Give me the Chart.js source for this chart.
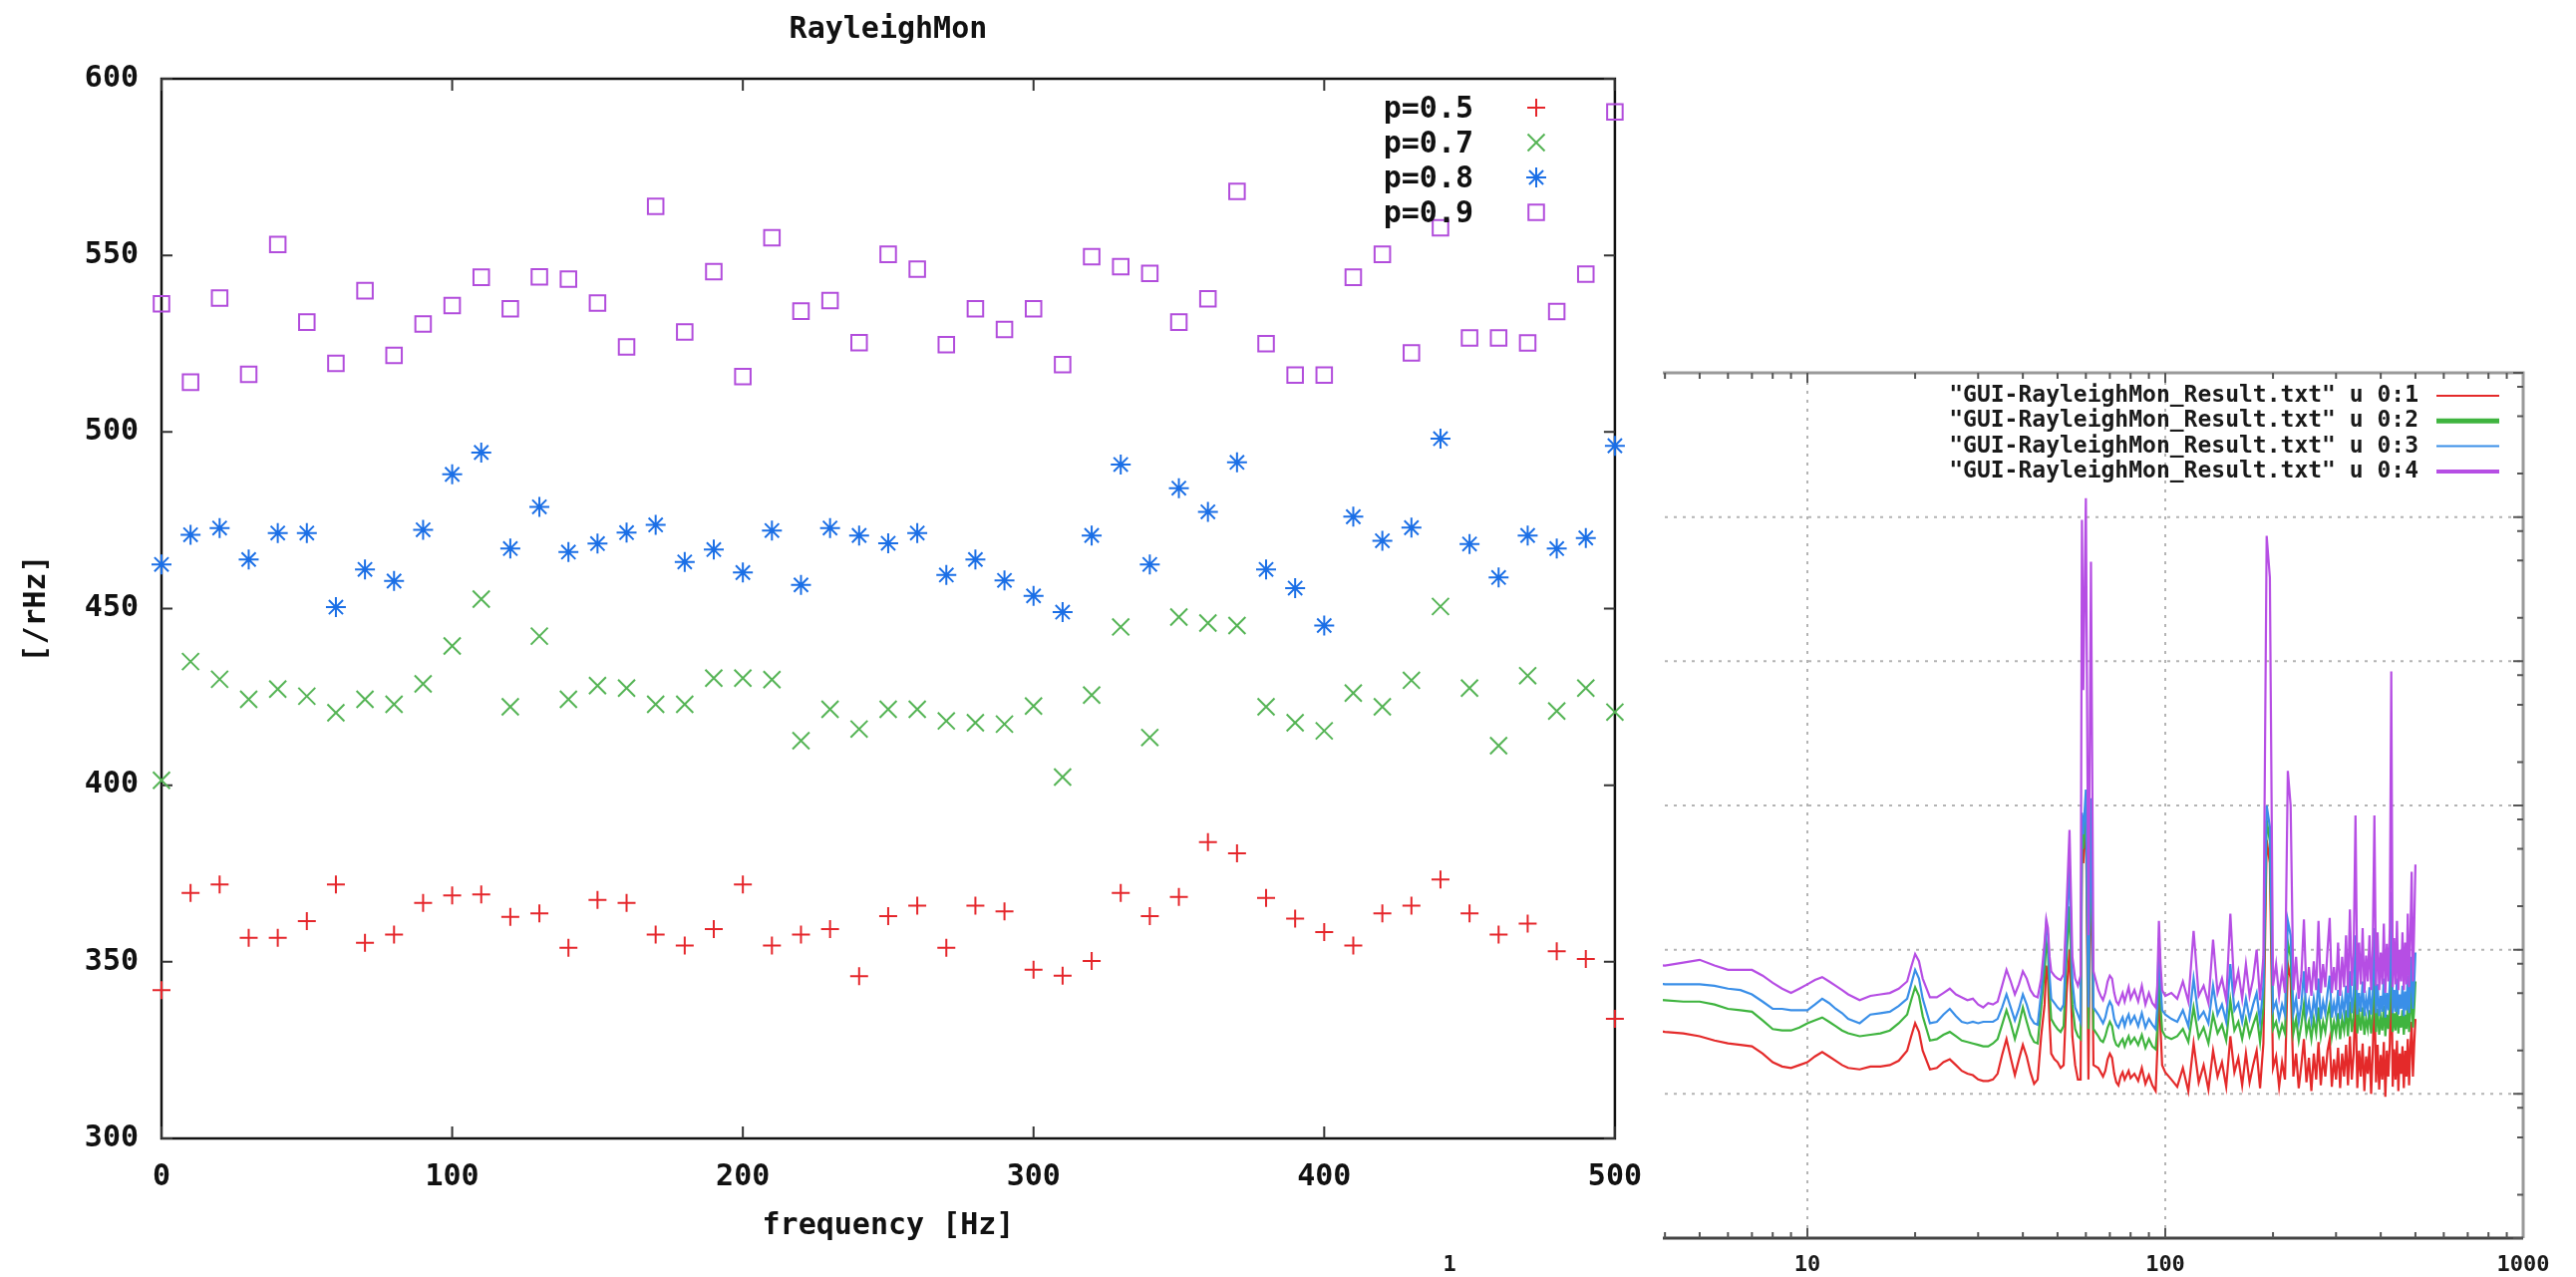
<!DOCTYPE html>
<html>
<head>
<meta charset="utf-8">
<script src="https://cdn.jsdelivr.net/npm/chart.js@4.4.1/dist/chart.umd.min.js"></script>
<style>
  html, body { margin: 0; padding: 0; background: #ffffff; width: 2584px; height: 1281px; overflow: hidden; }
  #wrapSpec { position: absolute; left: 0; top: 0; width: 2584px; height: 1281px; z-index: 1; }
  #wrapMain { position: absolute; left: 0; top: 0; width: 1668px; height: 1248px; z-index: 2; background: #ffffff; }
</style>
</head>
<body>
<div id="wrapSpec"><canvas id="spec"></canvas></div>
<div id="wrapMain"><canvas id="main"></canvas></div>
<script>
// ---------------- main chart data ----------------
const chartTitle = 'RayleighMon';
const xTitle = 'frequency [Hz]';
const yTitle = '[/rHz]';
const seriesNames = ['p=0.5', 'p=0.7', 'p=0.8', 'p=0.9'];
const freqHz = [0, 10, 20, 30, 40, 50, 60, 70, 80, 90, 100,
  110, 120, 130, 140, 150, 160, 170, 180, 190, 200,
  210, 220, 230, 240, 250, 260, 270, 280, 290, 300,
  310, 320, 330, 340, 350, 360, 370, 380, 390, 400,
  410, 420, 430, 440, 450, 460, 470, 480, 490, 500];
const p05 = [342.0, 369.5, 371.9, 356.8, 356.8, 361.5, 371.9, 355.4, 357.7, 366.7, 368.8,
  369.1, 362.7, 363.7, 354.0, 367.5, 366.7, 357.7, 354.6, 359.3, 371.9,
  354.6, 357.7, 359.3, 345.9, 362.9, 365.9, 354.0, 365.9, 364.3, 347.8,
  346.1, 350.2, 369.5, 362.9, 368.4, 383.9, 380.7, 368.1, 362.2, 358.4,
  354.6, 363.7, 365.9, 373.3, 363.7, 357.7, 360.8, 353.0, 350.8, 333.9];
const p07 = [401.4, 435.0, 430.0, 424.3, 427.2, 425.2, 420.5, 424.3, 422.9, 428.7, 439.4,
  452.7, 422.2, 442.2, 424.3, 428.2, 427.5, 422.9, 422.9, 430.3, 430.3,
  429.9, 412.6, 421.5, 415.9, 421.5, 421.5, 418.2, 417.7, 417.3, 422.4,
  402.3, 425.5, 444.8, 413.5, 447.6, 445.9, 445.2, 422.2, 417.7, 415.4,
  426.1, 422.2, 429.7, 450.6, 427.5, 411.2, 431.0, 421.0, 427.5, 420.7];
const p08 = [462.5, 470.9, 472.8, 463.9, 471.4, 471.4, 450.4, 461.1, 457.8, 472.3, 488.0,
  494.2, 467.0, 478.8, 466.0, 468.4, 471.5, 473.7, 463.2, 466.7, 460.2,
  472.1, 456.7, 472.8, 470.7, 468.5, 471.4, 459.5, 463.9, 458.0, 453.6,
  449.0, 470.7, 490.8, 462.5, 484.1, 477.4, 491.4, 461.1, 455.8, 445.2,
  476.0, 469.2, 472.9, 498.1, 468.3, 458.8, 470.7, 467.0, 470.0, 496.1];
const p09 = [536.3, 514.1, 537.9, 516.3, 553.1, 531.1, 519.4, 540.0, 521.7, 530.6, 535.8,
  543.8, 534.9, 543.9, 543.3, 536.5, 524.1, 563.9, 528.3, 545.4, 515.7,
  555.0, 534.2, 537.2, 525.3, 550.3, 546.1, 524.7, 534.9, 529.0, 534.9,
  519.1, 549.6, 546.8, 544.9, 531.1, 537.7, 568.1, 525.0, 516.1, 516.1,
  543.8, 550.3, 522.4, 557.8, 526.6, 526.6, 525.2, 534.1, 544.7, 590.6];
const yTicksMain = [300, 350, 400, 450, 500, 550, 600];
const xTicksMain = [0, 100, 200, 300, 400, 500];

// ---------------- spectrum (inset) data ----------------
const specLabels = [
  '"GUI-RayleighMon_Result.txt" u 0:1',
  '"GUI-RayleighMon_Result.txt" u 0:2',
  '"GUI-RayleighMon_Result.txt" u 0:3',
  '"GUI-RayleighMon_Result.txt" u 0:4'
];
const specXTicks = [1, 10, 100, 1000];
const specFreq = [
  1, 1.5, 2, 2.5, 3, 3.5, 4, 4.5, 5, 5.5,
  6, 6.5, 7, 7.5, 8, 8.5, 9, 9.5, 10, 10.5,
  11, 11.5, 12, 12.5, 13, 14, 15, 16, 17, 18,
  19, 19.5, 20, 20.5, 21, 22, 23, 24, 25, 26,
  27, 28, 29, 30, 31, 32, 33, 34, 35, 36,
  37, 38, 39, 40, 41, 42, 43, 44, 45, 46,
  46.5, 47, 47.5, 48, 49, 50, 51, 52, 53, 54,
  55, 56, 57, 58, 58.5, 59, 60, 61, 62, 63,
  65, 66, 67, 68, 69, 70, 71, 72, 73, 74,
  75, 76, 77, 78, 79, 80, 82, 84, 86, 88,
  90, 92, 94, 95, 96, 97, 98, 100,
  104, 108, 112, 116, 120, 124, 128, 132, 136, 140,
  144, 148, 152, 156, 160, 164, 168, 172, 176, 180,
  184, 188, 192, 196, 200, 204, 208, 212, 216, 220,
  224, 228, 232, 236, 240, 244, 248, 252, 256, 260,
  264, 268, 272, 276, 280, 284, 288, 292, 296, 300,
  304, 308, 312, 316, 320, 324, 328, 332, 336, 340,
  344, 348, 352, 356, 360, 364, 368, 372, 376, 380,
  384, 388, 392, 396, 400, 404, 408, 412, 416, 420,
  424, 428, 432, 436, 440, 444, 448, 452, 456, 460,
  464, 468, 472, 476, 480, 484, 488, 492, 496, 500];
// log10 of the amplitude, per column (u 0:1 ... u 0:4)
const log10Col1 = [
  1.58, 1.55, 1.52, 1.49, 1.47, 1.45, 1.43, 1.42, 1.40, 1.37,
  1.35, 1.34, 1.33, 1.28, 1.22, 1.19, 1.18, 1.20, 1.22, 1.26,
  1.29, 1.26, 1.23, 1.20, 1.18, 1.17, 1.19, 1.19, 1.20, 1.23,
  1.30, 1.40, 1.49, 1.43, 1.30, 1.17, 1.18, 1.22, 1.24, 1.20,
  1.16, 1.14, 1.13, 1.10, 1.09, 1.09, 1.10, 1.14, 1.27, 1.38,
  1.25, 1.13, 1.24, 1.34, 1.26, 1.15, 1.07, 1.10, 1.40, 1.62,
  1.89, 1.80, 1.50, 1.28, 1.24, 1.22, 1.18, 1.20, 1.70, 2.00,
  1.40, 1.20, 1.10, 1.10, 2.70, 2.60, 2.95, 1.10, 2.85, 1.20,
  1.18, 1.15, 1.12, 1.16, 1.24, 1.28, 1.25, 1.14, 1.08, 1.06,
  1.12, 1.15, 1.10, 1.13, 1.16, 1.11, 1.14, 1.09, 1.18, 1.07,
  1.13, 1.06, 1.02, 1.30, 1.77, 1.45, 1.20, 1.15,
  1.10, 1.05, 1.18, 1.02, 1.35, 1.08, 1.20, 1.03, 1.30, 1.12,
  1.22, 1.05, 1.40, 1.15, 1.25, 1.06, 1.28, 1.08, 1.20, 1.30,
  1.04, 1.35, 2.76, 2.60, 1.18, 1.26, 1.05, 1.22, 1.10, 1.90,
  1.80, 1.12, 1.28, 1.04, 1.20, 1.38, 1.08, 1.25, 1.02, 1.28,
  1.10, 1.36, 1.06, 1.26, 1.12, 1.30, 1.38, 1.05, 1.24, 1.10,
  1.32, 1.04, 1.28, 1.12, 1.34, 1.06, 1.40, 1.10, 1.28, 1.70,
  1.04, 1.30, 1.12, 1.35, 1.02, 1.26, 1.14, 1.33, 1.00, 1.29,
  1.75, 1.08, 1.34, 1.03, 1.27, 1.10, 1.36, 0.98, 1.30, 1.12,
  1.35, 2.00, 1.05, 1.31, 1.10, 1.37, 1.02, 1.28, 1.14, 1.33,
  1.04, 1.30, 1.12, 1.38, 1.06, 1.32, 1.50, 1.12, 1.34, 1.52];
const log10Col2 = [
  1.78, 1.75, 1.73, 1.70, 1.68, 1.66, 1.65, 1.64, 1.64, 1.62,
  1.59, 1.58, 1.57, 1.51, 1.45, 1.44, 1.44, 1.46, 1.49, 1.51,
  1.53, 1.50, 1.47, 1.44, 1.42, 1.40, 1.41, 1.42, 1.44, 1.49,
  1.55, 1.65, 1.74, 1.68, 1.54, 1.37, 1.38, 1.41, 1.43, 1.40,
  1.37, 1.36, 1.35, 1.34, 1.33, 1.33, 1.35, 1.38, 1.48, 1.58,
  1.49, 1.38, 1.48, 1.60, 1.50, 1.41, 1.36, 1.35, 1.60, 1.85,
  2.05, 1.98, 1.70, 1.52, 1.48, 1.45, 1.43, 1.47, 1.95, 2.30,
  1.62, 1.45, 1.40, 1.38, 2.80, 2.70, 3.00, 1.45, 2.95, 1.45,
  1.40, 1.37, 1.36, 1.40, 1.46, 1.50, 1.47, 1.38, 1.34, 1.33,
  1.36, 1.38, 1.33, 1.37, 1.40, 1.35, 1.39, 1.34, 1.41, 1.32,
  1.38, 1.33, 1.31, 1.45, 1.90, 1.60, 1.44, 1.40,
  1.38, 1.40, 1.45, 1.36, 1.60, 1.39, 1.46, 1.35, 1.55, 1.42,
  1.48, 1.37, 1.65, 1.44, 1.50, 1.38, 1.52, 1.40, 1.48, 1.55,
  1.36, 1.60, 2.90, 2.75, 1.45, 1.50, 1.40, 1.48, 1.42, 2.05,
  1.95, 1.42, 1.52, 1.37, 1.48, 1.62, 1.42, 1.50, 1.38, 1.52,
  1.42, 1.60, 1.40, 1.50, 1.43, 1.55, 1.62, 1.40, 1.50, 1.42,
  1.56, 1.38, 1.52, 1.44, 1.58, 1.40, 1.64, 1.43, 1.53, 1.90,
  1.42, 1.55, 1.44, 1.60, 1.41, 1.52, 1.45, 1.58, 1.42, 1.54,
  1.95, 1.43, 1.59, 1.41, 1.53, 1.44, 1.61, 1.40, 1.55, 1.45,
  1.60, 2.20, 1.43, 1.56, 1.44, 1.62, 1.42, 1.54, 1.46, 1.58,
  1.41, 1.55, 1.45, 1.63, 1.43, 1.57, 1.75, 1.46, 1.59, 1.78];
const log10Col3 = [
  1.88, 1.85, 1.83, 1.81, 1.79, 1.78, 1.76, 1.76, 1.76, 1.75,
  1.73, 1.72, 1.69, 1.64, 1.59, 1.59, 1.58, 1.58, 1.58, 1.62,
  1.66, 1.63, 1.59, 1.56, 1.52, 1.49, 1.55, 1.56, 1.57, 1.61,
  1.66, 1.76, 1.86, 1.80, 1.66, 1.49, 1.50, 1.55, 1.59, 1.54,
  1.50, 1.49, 1.50, 1.49, 1.50, 1.50, 1.50, 1.52, 1.60, 1.69,
  1.60, 1.51, 1.59, 1.69, 1.62, 1.53, 1.49, 1.48, 1.70, 1.98,
  2.18, 2.10, 1.82, 1.66, 1.63, 1.60, 1.58, 1.62, 2.10, 2.59,
  1.78, 1.60, 1.55, 1.50, 2.95, 2.80, 3.11, 1.60, 3.05, 1.60,
  1.55, 1.52, 1.49, 1.53, 1.60, 1.64, 1.61, 1.52, 1.48, 1.46,
  1.50, 1.53, 1.47, 1.52, 1.55, 1.49, 1.54, 1.47, 1.56, 1.46,
  1.52, 1.48, 1.45, 1.60, 2.08, 1.75, 1.58, 1.55,
  1.52, 1.50, 1.58, 1.47, 1.80, 1.52, 1.57, 1.49, 1.75, 1.55,
  1.62, 1.50, 1.90, 1.58, 1.63, 1.50, 1.66, 1.52, 1.62, 1.70,
  1.50, 1.75, 3.00, 2.85, 1.58, 1.64, 1.52, 1.62, 1.55, 2.20,
  2.10, 1.56, 1.66, 1.50, 1.62, 1.85, 1.55, 1.64, 1.51, 1.66,
  1.55, 1.80, 1.52, 1.64, 1.56, 1.70, 1.82, 1.53, 1.63, 1.55,
  1.72, 1.52, 1.66, 1.56, 1.75, 1.53, 1.85, 1.56, 1.68, 2.10,
  1.55, 1.70, 1.57, 1.78, 1.54, 1.66, 1.58, 1.74, 1.55, 1.69,
  2.15, 1.56, 1.76, 1.54, 1.68, 1.57, 1.80, 1.53, 1.70, 1.58,
  1.77, 2.40, 1.56, 1.72, 1.57, 1.80, 1.55, 1.69, 1.59, 1.75,
  1.54, 1.71, 1.58, 1.82, 1.56, 1.74, 1.95, 1.59, 1.76, 1.98];
const log10Col4 = [
  2.00, 1.97, 1.95, 1.93, 1.91, 1.90, 1.89, 1.91, 1.93, 1.89,
  1.86, 1.86, 1.86, 1.82, 1.77, 1.73, 1.70, 1.73, 1.76, 1.79,
  1.81, 1.78, 1.75, 1.72, 1.69, 1.65, 1.68, 1.69, 1.70, 1.73,
  1.78, 1.88, 1.97, 1.92, 1.80, 1.67, 1.67, 1.70, 1.73, 1.69,
  1.67, 1.65, 1.66, 1.62, 1.60, 1.63, 1.62, 1.64, 1.75, 1.86,
  1.78, 1.69, 1.76, 1.85, 1.80, 1.72, 1.68, 1.67, 1.80, 2.05,
  2.21, 2.15, 1.95, 1.85, 1.82, 1.80, 1.79, 1.83, 2.30, 2.83,
  1.95, 1.80, 1.75, 1.82, 4.98, 3.80, 5.13, 2.10, 4.69, 1.85,
  1.72, 1.68, 1.65, 1.70, 1.78, 1.82, 1.80, 1.70, 1.64, 1.62,
  1.66, 1.70, 1.64, 1.69, 1.74, 1.66, 1.72, 1.64, 1.75, 1.62,
  1.70, 1.63, 1.60, 1.75, 2.20, 1.90, 1.72, 1.68,
  1.70, 1.66, 1.78, 1.64, 2.13, 1.68, 1.75, 1.63, 2.07, 1.70,
  1.80, 1.65, 2.25, 1.72, 1.85, 1.66, 1.90, 1.68, 1.80, 2.00,
  1.65, 1.95, 4.87, 4.58, 1.75, 1.90, 1.68, 1.85, 1.70, 3.24,
  3.00, 1.72, 1.95, 1.66, 1.82, 2.21, 1.70, 1.88, 1.68, 1.92,
  1.72, 2.20, 1.70, 1.90, 1.74, 2.00, 2.22, 1.70, 1.88, 1.72,
  2.05, 1.68, 1.95, 1.74, 2.10, 1.70, 2.28, 1.75, 1.98, 2.93,
  1.72, 2.05, 1.76, 2.15, 1.70, 1.96, 1.78, 2.10, 1.72, 2.02,
  2.93, 1.75, 2.12, 1.72, 1.98, 1.76, 2.18, 1.70, 2.04, 1.78,
  2.15, 3.93, 1.74, 2.08, 1.76, 2.20, 1.72, 2.00, 1.78, 2.12,
  1.72, 2.05, 1.76, 2.25, 1.74, 2.10, 2.54, 1.78, 2.15, 2.59];

// ---------------- styles ----------------
const MONO = '"DejaVu Sans Mono", "Liberation Mono", monospace';
const mainColors = ['#e5262b', '#55b455', '#1b6fe6', '#b24ddc'];
const mainStyles = ['cross', 'crossRot', 'star', 'rect'];
const mainRadius = [9, 12, 10, 11];
const specColors = ['#e42a2a', '#3fb43f', '#3a8fe8', '#b64ee4'];
const specLegendWidths = [2, 5, 2, 4];

// ---------------- main chart ----------------
const mainSeries = [p05, p07, p08, p09];
const mainFrame = {
  id: 'mainFrame',
  beforeDraw(chart) {
    const c = chart.ctx;
    c.save(); c.fillStyle = '#ffffff'; c.fillRect(0, 0, chart.width, chart.height); c.restore();
  },
  beforeDatasetsDraw(chart) {
    const { ctx, chartArea: a, scales: { x, y } } = chart;
    ctx.save();
    ctx.strokeStyle = '#111111';
    ctx.lineWidth = 2.5;
    ctx.strokeRect(a.left, a.top, a.right - a.left, a.bottom - a.top);
    ctx.strokeStyle = '#333333';
    ctx.lineWidth = 2;
    ctx.beginPath();
    xTicksMain.forEach(v => {
      const px = x.getPixelForValue(v);
      ctx.moveTo(px, a.bottom); ctx.lineTo(px, a.bottom - 12);
      ctx.moveTo(px, a.top); ctx.lineTo(px, a.top + 12);
    });
    yTicksMain.forEach(v => {
      const py = y.getPixelForValue(v);
      ctx.moveTo(a.left, py); ctx.lineTo(a.left + 11, py);
      ctx.moveTo(a.right, py); ctx.lineTo(a.right - 11, py);
    });
    ctx.stroke();
    ctx.restore();
  },
  afterDatasetsDraw(chart) {
    const ctx = chart.ctx;
    ctx.save();
    ctx.font = 'bold 30px ' + MONO;
    ctx.fillStyle = '#111111';
    ctx.textAlign = 'right';
    ctx.textBaseline = 'middle';
    seriesNames.forEach((name, i) => {
      const yy = 110 + 35 * i;
      ctx.fillText(name, 1478, yy);
      ctx.strokeStyle = mainColors[i];
      ctx.fillStyle = 'rgba(0,0,0,0)';
      ctx.lineWidth = 2;
      Chart.helpers.drawPoint(ctx, { pointStyle: mainStyles[i], radius: mainRadius[i], rotation: 0, borderWidth: 2 }, 1541, yy - 2);
      ctx.fillStyle = '#111111';
    });
    ctx.restore();
  }
};

new Chart(document.getElementById('main'), {
  type: 'scatter',
  data: {
    datasets: mainSeries.map((vals, i) => ({
      label: seriesNames[i],
      data: freqHz.map((f, k) => ({ x: f, y: vals[k] })),
      pointStyle: mainStyles[i],
      pointRadius: mainRadius[i],
      pointBorderWidth: 2,
      borderColor: mainColors[i],
      backgroundColor: 'rgba(0,0,0,0)',
      showLine: false,
      clip: false
    }))
  },
  options: {
    responsive: true,
    maintainAspectRatio: false,
    animation: false,
    devicePixelRatio: 1,
    events: [],
    layout: { padding: { left: 0, right: 47, top: 0, bottom: 0 } },
    plugins: {
      legend: { display: false },
      tooltip: { enabled: false },
      title: {
        display: true, text: chartTitle, fullSize: false, color: '#111111',
        font: { family: MONO, size: 30, weight: 'bold', lineHeight: 1.2 },
        padding: { top: 12, bottom: 31 }
      }
    },
    scales: {
      x: {
        type: 'linear', min: 0, max: 500,
        afterBuildTicks: s => { s.ticks = xTicksMain.map(v => ({ value: v })); },
        afterFit: s => { s.height = 106; },
        ticks: { color: '#111111', padding: 21, maxRotation: 0, autoSkip: false,
          font: { family: MONO, size: 30, weight: 'bold' }, callback: v => String(v) },
        grid: { display: false, drawTicks: false },
        border: { display: false },
        title: { display: true, text: xTitle, color: '#111111',
          font: { family: MONO, size: 30, weight: 'bold', lineHeight: 1.2 }, padding: { top: 0, bottom: 0 } }
      },
      y: {
        type: 'linear', min: 300, max: 600,
        afterBuildTicks: s => { s.ticks = yTicksMain.map(v => ({ value: v })); },
        afterFit: s => { s.width = 162; },
        ticks: { color: '#111111', padding: 23, autoSkip: false,
          font: { family: MONO, size: 30, weight: 'bold' }, callback: v => String(v) },
        grid: { display: false, drawTicks: false },
        border: { display: false },
        title: { display: true, text: yTitle, color: '#111111',
          font: { family: MONO, size: 30, weight: 'bold', lineHeight: 1.2 }, padding: { top: 19, bottom: 0 } }
      }
    }
  },
  plugins: [mainFrame]
});

// ---------------- spectrum inset chart ----------------
const specSeries = [log10Col1, log10Col2, log10Col3, log10Col4];
const specFrame = {
  id: 'specFrame',
  beforeDatasetsDraw(chart) {
    const { ctx, chartArea: a, scales: { x, y } } = chart;
    ctx.save();
    ctx.strokeStyle = '#b4b4b4';
    ctx.lineWidth = 2;
    ctx.setLineDash([3, 6]);
    ctx.beginPath();
    [10, 100].forEach(v => { const px = x.getPixelForValue(v); ctx.moveTo(px, a.top); ctx.lineTo(px, a.bottom); });
    [1, 2, 3, 4, 5].forEach(v => { const py = y.getPixelForValue(v); ctx.moveTo(a.left, py); ctx.lineTo(a.right, py); });
    ctx.stroke();
    ctx.restore();
  },
  afterDatasetsDraw(chart) {
    const { ctx, chartArea: a, scales: { x, y } } = chart;
    ctx.save();
    // frame
    ctx.lineWidth = 3;
    ctx.strokeStyle = '#9a9a9a';
    ctx.beginPath();
    ctx.moveTo(a.left, a.top); ctx.lineTo(a.right, a.top); ctx.lineTo(a.right, a.bottom);
    ctx.stroke();
    ctx.strokeStyle = '#444444';
    ctx.beginPath();
    ctx.moveTo(a.left, a.bottom); ctx.lineTo(a.right, a.bottom);
    ctx.stroke();
    // x ticks (log, major + minor), top and bottom, inward
    ctx.lineWidth = 2;
    ctx.strokeStyle = '#555555';
    ctx.beginPath();
    [1, 10, 100].forEach(dec => {
      for (let m = 1; m <= 9; m++) {
        const v = dec * m;
        const px = x.getPixelForValue(v);
        const len = m === 1 ? 10 : 6;
        ctx.moveTo(px, a.bottom); ctx.lineTo(px, a.bottom - len);
        ctx.moveTo(px, a.top); ctx.lineTo(px, a.top + len);
      }
    });
    // y ticks on right border
    for (let k = 0; k <= 6; k++) {
      const py = y.getPixelForValue(k);
      ctx.moveTo(a.right, py); ctx.lineTo(a.right - 10, py);
      if (k < 6) {
        [2, 5, 8].forEach(m => {
          const pm = y.getPixelForValue(k + Math.log10(m));
          ctx.moveTo(a.right, pm); ctx.lineTo(a.right - 6, pm);
        });
      }
    }
    ctx.stroke();
    // legend
    ctx.font = 'bold 23px ' + MONO;
    ctx.fillStyle = '#1a1a1a';
    ctx.textAlign = 'right';
    ctx.textBaseline = 'middle';
    specLabels.forEach((lab, i) => {
      const yy = 397 + 25.3 * i;
      ctx.fillText(lab, 2426, yy);
      ctx.strokeStyle = specColors[i];
      ctx.lineWidth = specLegendWidths[i];
      ctx.beginPath(); ctx.moveTo(2444, yy); ctx.lineTo(2507, yy); ctx.stroke();
    });
    ctx.restore();
  }
};

new Chart(document.getElementById('spec'), {
  type: 'line',
  data: {
    datasets: specSeries.map((vals, i) => ({
      label: specLabels[i],
      data: specFreq.map((f, k) => ({ x: f, y: vals[k] })),
      borderColor: specColors[i],
      borderWidth: 2.2,
      pointRadius: 0,
      tension: 0,
      fill: false,
      order: 4 - i
    }))
  },
  options: {
    responsive: true,
    maintainAspectRatio: false,
    animation: false,
    devicePixelRatio: 1,
    events: [],
    layout: { padding: { left: 1300, right: 53, top: 374, bottom: 0 } },
    plugins: { legend: { display: false }, tooltip: { enabled: false }, title: { display: false } },
    scales: {
      x: {
        type: 'logarithmic', min: 1, max: 1000,
        afterBuildTicks: s => { s.ticks = specXTicks.map(v => ({ value: v })); },
        afterFit: s => { s.height = 39; },
        ticks: { color: '#1a1a1a', padding: 14, maxRotation: 0, autoSkip: false,
          font: { family: MONO, size: 22, weight: 'bold' }, callback: v => String(v) },
        grid: { display: false, drawTicks: false },
        border: { display: false }
      },
      y: {
        type: 'linear', min: 0, max: 6,
        afterFit: s => { s.width = 154; },
        ticks: { display: false },
        grid: { display: false, drawTicks: false },
        border: { display: false }
      }
    }
  },
  plugins: [specFrame]
});
</script>
</body>
</html>
